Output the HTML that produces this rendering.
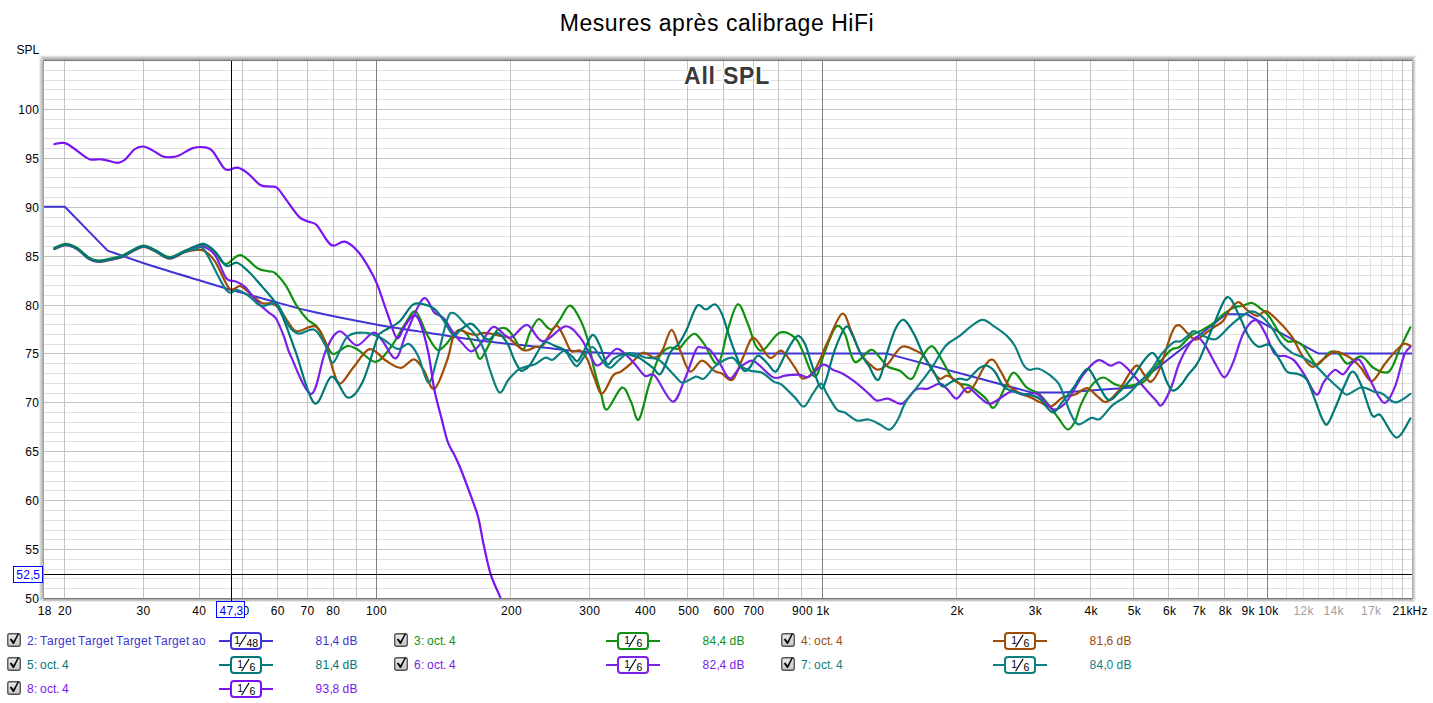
<!DOCTYPE html><html><head><meta charset="utf-8"><style>html,body{margin:0;padding:0;background:#fff;width:1433px;height:703px;overflow:hidden}svg{display:block}text{font-family:"Liberation Sans",sans-serif}</style></head><body>
<svg width="1433" height="703" viewBox="0 0 1433 703">
<defs><filter id="sh" x="-5%" y="-5%" width="110%" height="110%"><feGaussianBlur stdDeviation="1.6"/></filter><linearGradient id="cbg" x1="0" y1="0" x2="0" y2="1"><stop offset="0" stop-color="#ececec"/><stop offset="1" stop-color="#c4c4c4"/></linearGradient><clipPath id="pc"><rect x="44" y="61" width="1368" height="537"/></clipPath></defs>
<text x="717" y="31" text-anchor="middle" font-size="23" letter-spacing="0.55" fill="#000">Mesures après calibrage HiFi</text>
<text x="16.5 24.5 32.5" y="54" font-size="12" fill="#000">SPL</text>
<rect x="43" y="60" width="1369" height="538" fill="#fff"/>
<rect x="39" y="57" width="1" height="545" fill="#f0f0f0"/>
<rect x="40" y="58" width="1" height="543" fill="#d8d8d8"/>
<rect x="41" y="59" width="1" height="541" fill="#c8c8c8"/>
<rect x="42" y="60" width="1" height="539" fill="#b8b8b8"/>
<rect x="1415" y="58" width="1" height="543" fill="#f0f0f0"/>
<rect x="1414" y="59" width="1" height="541" fill="#d8d8d8"/>
<rect x="1413" y="60" width="1" height="539" fill="#c0c0c0"/>
<rect x="39" y="55" width="1378" height="1" fill="#f6f6f6"/>
<rect x="40" y="56" width="1376" height="1" fill="#e0e0e0"/>
<rect x="41" y="57" width="1374" height="1" fill="#cacaca"/>
<rect x="42" y="58" width="1372" height="1" fill="#b8b8b8"/>
<rect x="43" y="59" width="1370" height="1" fill="#a8a8a8"/>
<rect x="41" y="601" width="1374" height="1" fill="#e8e8e8"/>
<rect x="42" y="600" width="1372" height="1" fill="#c8c8c8"/>
<rect x="43" y="599" width="1370" height="1" fill="#b0b0b0"/>
<rect x="44" y="588" width="1368" height="1" fill="#e0e0e0"/>
<rect x="44" y="578" width="1368" height="1" fill="#e0e0e0"/>
<rect x="44" y="569" width="1368" height="1" fill="#e0e0e0"/>
<rect x="44" y="559" width="1368" height="1" fill="#e0e0e0"/>
<rect x="44" y="549" width="1368" height="1" fill="#c4c4c4"/>
<rect x="44" y="539" width="1368" height="1" fill="#e0e0e0"/>
<rect x="44" y="530" width="1368" height="1" fill="#e0e0e0"/>
<rect x="44" y="520" width="1368" height="1" fill="#e0e0e0"/>
<rect x="44" y="510" width="1368" height="1" fill="#e0e0e0"/>
<rect x="44" y="500" width="1368" height="1" fill="#c4c4c4"/>
<rect x="44" y="490" width="1368" height="1" fill="#e0e0e0"/>
<rect x="44" y="481" width="1368" height="1" fill="#e0e0e0"/>
<rect x="44" y="471" width="1368" height="1" fill="#e0e0e0"/>
<rect x="44" y="461" width="1368" height="1" fill="#e0e0e0"/>
<rect x="44" y="451" width="1368" height="1" fill="#c4c4c4"/>
<rect x="44" y="441" width="1368" height="1" fill="#e0e0e0"/>
<rect x="44" y="432" width="1368" height="1" fill="#e0e0e0"/>
<rect x="44" y="422" width="1368" height="1" fill="#e0e0e0"/>
<rect x="44" y="412" width="1368" height="1" fill="#e0e0e0"/>
<rect x="44" y="402" width="1368" height="1" fill="#c4c4c4"/>
<rect x="44" y="393" width="1368" height="1" fill="#e0e0e0"/>
<rect x="44" y="383" width="1368" height="1" fill="#e0e0e0"/>
<rect x="44" y="373" width="1368" height="1" fill="#e0e0e0"/>
<rect x="44" y="363" width="1368" height="1" fill="#e0e0e0"/>
<rect x="44" y="353" width="1368" height="1" fill="#c4c4c4"/>
<rect x="44" y="344" width="1368" height="1" fill="#e0e0e0"/>
<rect x="44" y="334" width="1368" height="1" fill="#e0e0e0"/>
<rect x="44" y="324" width="1368" height="1" fill="#e0e0e0"/>
<rect x="44" y="314" width="1368" height="1" fill="#e0e0e0"/>
<rect x="44" y="305" width="1368" height="1" fill="#c4c4c4"/>
<rect x="44" y="295" width="1368" height="1" fill="#e0e0e0"/>
<rect x="44" y="285" width="1368" height="1" fill="#e0e0e0"/>
<rect x="44" y="275" width="1368" height="1" fill="#e0e0e0"/>
<rect x="44" y="265" width="1368" height="1" fill="#e0e0e0"/>
<rect x="44" y="256" width="1368" height="1" fill="#c4c4c4"/>
<rect x="44" y="246" width="1368" height="1" fill="#e0e0e0"/>
<rect x="44" y="236" width="1368" height="1" fill="#e0e0e0"/>
<rect x="44" y="226" width="1368" height="1" fill="#e0e0e0"/>
<rect x="44" y="217" width="1368" height="1" fill="#e0e0e0"/>
<rect x="44" y="207" width="1368" height="1" fill="#c4c4c4"/>
<rect x="44" y="197" width="1368" height="1" fill="#e0e0e0"/>
<rect x="44" y="187" width="1368" height="1" fill="#e0e0e0"/>
<rect x="44" y="177" width="1368" height="1" fill="#e0e0e0"/>
<rect x="44" y="168" width="1368" height="1" fill="#e0e0e0"/>
<rect x="44" y="158" width="1368" height="1" fill="#c4c4c4"/>
<rect x="44" y="148" width="1368" height="1" fill="#e0e0e0"/>
<rect x="44" y="138" width="1368" height="1" fill="#e0e0e0"/>
<rect x="44" y="128" width="1368" height="1" fill="#e0e0e0"/>
<rect x="44" y="119" width="1368" height="1" fill="#e0e0e0"/>
<rect x="44" y="109" width="1368" height="1" fill="#c4c4c4"/>
<rect x="44" y="99" width="1368" height="1" fill="#e0e0e0"/>
<rect x="44" y="89" width="1368" height="1" fill="#e0e0e0"/>
<rect x="44" y="80" width="1368" height="1" fill="#e0e0e0"/>
<rect x="44" y="70" width="1368" height="1" fill="#e0e0e0"/>
<rect x="64" y="61" width="1" height="537" fill="#c4c4c4"/>
<rect x="143" y="61" width="1" height="537" fill="#c4c4c4"/>
<rect x="199" y="61" width="1" height="537" fill="#c4c4c4"/>
<rect x="242" y="61" width="1" height="537" fill="#c4c4c4"/>
<rect x="277" y="61" width="1" height="537" fill="#c4c4c4"/>
<rect x="307" y="61" width="1" height="537" fill="#c4c4c4"/>
<rect x="333" y="61" width="1" height="537" fill="#c4c4c4"/>
<rect x="356" y="61" width="1" height="537" fill="#c4c4c4"/>
<rect x="376" y="61" width="1" height="537" fill="#808080"/>
<rect x="510" y="61" width="1" height="537" fill="#c4c4c4"/>
<rect x="589" y="61" width="1" height="537" fill="#c4c4c4"/>
<rect x="644" y="61" width="1" height="537" fill="#c4c4c4"/>
<rect x="687" y="61" width="1" height="537" fill="#c4c4c4"/>
<rect x="723" y="61" width="1" height="537" fill="#c4c4c4"/>
<rect x="753" y="61" width="1" height="537" fill="#c4c4c4"/>
<rect x="778" y="61" width="1" height="537" fill="#c4c4c4"/>
<rect x="801" y="61" width="1" height="537" fill="#c4c4c4"/>
<rect x="822" y="61" width="1" height="537" fill="#808080"/>
<rect x="956" y="61" width="1" height="537" fill="#c4c4c4"/>
<rect x="1034" y="61" width="1" height="537" fill="#c4c4c4"/>
<rect x="1090" y="61" width="1" height="537" fill="#c4c4c4"/>
<rect x="1133" y="61" width="1" height="537" fill="#c4c4c4"/>
<rect x="1168" y="61" width="1" height="537" fill="#c4c4c4"/>
<rect x="1198" y="61" width="1" height="537" fill="#c4c4c4"/>
<rect x="1224" y="61" width="1" height="537" fill="#c4c4c4"/>
<rect x="1247" y="61" width="1" height="537" fill="#c4c4c4"/>
<rect x="1267" y="61" width="1" height="537" fill="#808080"/>
<rect x="1286" y="61" width="1" height="537" fill="#e2e2e2"/>
<rect x="1303" y="61" width="1" height="537" fill="#e2e2e2"/>
<rect x="1318" y="61" width="1" height="537" fill="#e2e2e2"/>
<rect x="1333" y="61" width="1" height="537" fill="#e2e2e2"/>
<rect x="1346" y="61" width="1" height="537" fill="#e2e2e2"/>
<rect x="1358" y="61" width="1" height="537" fill="#e2e2e2"/>
<rect x="1370" y="61" width="1" height="537" fill="#e2e2e2"/>
<rect x="1381" y="61" width="1" height="537" fill="#e2e2e2"/>
<rect x="1392" y="61" width="1" height="537" fill="#e2e2e2"/>
<rect x="1402" y="61" width="1" height="537" fill="#c4c4c4"/>
<rect x="43" y="60" width="1" height="539" fill="#a0a0a0"/>
<rect x="1412" y="60" width="1" height="539" fill="#b0b0b0"/>
<rect x="44" y="60" width="1368" height="1" fill="#787878"/>
<rect x="44" y="598" width="1368" height="1" fill="#787878"/>
<text x="727" y="83.5" text-anchor="middle" font-size="23" font-weight="bold" letter-spacing="0.78" fill="#3a3a3a" stroke="#fff" stroke-width="3" paint-order="stroke">All SPL</text>
<g clip-path="url(#pc)" fill="none" stroke-linejoin="round" stroke-linecap="round">
<path d="M43.0,206.8 L64.8,206.8 L107.6,250.6 L107.6,250.6 C114.7,253.1 134.6,260.3 150.0,265.3 C165.4,270.3 186.3,276.4 200.0,280.5 C213.7,284.6 219.5,286.5 232.1,290.1 C244.7,293.7 262.1,298.3 275.4,301.9 C288.7,305.5 294.9,307.8 311.7,311.6 C328.4,315.4 357.3,321.1 375.9,324.5 C394.5,327.9 406.1,329.3 423.3,332.0 C440.5,334.7 460.5,338.1 479.1,340.5 C497.7,342.9 518.2,344.7 535.0,346.5 C551.8,348.3 566.7,350.4 580.0,351.5 C593.3,352.6 609.2,353.1 615.0,353.4 L886.0,353.4 L1032.0,392.6 L1062.0,392.4 L1132.0,387.6 L1226.0,314.2 L1246.5,314.2 L1318.0,353.4 L1412.0,353.4" stroke="#4034d4" stroke-width="2"/>
<path d="M54.5,247.7 C56.4,247.1 62.0,243.8 65.7,243.8 C69.4,243.8 72.9,245.4 76.8,247.7 C80.7,250.0 85.5,255.6 89.1,257.7 C92.6,259.8 94.4,260.4 98.1,260.5 C101.8,260.6 107.4,259.1 111.5,258.3 C115.6,257.5 119.1,256.9 122.6,255.5 C126.1,254.1 129.2,251.6 132.7,249.9 C136.2,248.2 140.1,245.5 143.8,245.5 C147.5,245.5 150.7,248.0 155.0,249.9 C159.3,251.8 164.7,257.0 169.5,257.2 C174.3,257.4 179.8,252.7 184.0,251.0 C188.2,249.3 191.6,248.1 195.0,247.0 C198.4,245.9 201.0,243.8 204.4,244.7 C207.8,245.6 211.8,249.2 215.3,252.5 C218.8,255.8 221.3,263.8 225.5,264.2 C229.7,264.6 235.1,254.5 240.4,255.2 C245.8,255.9 252.9,265.5 257.6,268.2 C262.3,270.9 265.6,270.5 268.5,271.3 C271.4,272.1 271.9,270.5 274.8,272.8 C277.7,275.1 282.1,279.9 285.7,285.4 C289.3,290.9 293.0,300.0 296.7,305.7 C300.4,311.4 304.2,316.3 307.6,319.8 C311.0,323.3 314.0,323.1 317.0,326.8 C320.0,330.5 322.7,337.7 325.4,342.2 C328.1,346.7 329.5,353.4 333.2,354.0 C336.9,354.6 343.1,346.8 347.3,346.1 C351.5,345.4 353.5,347.4 358.2,350.0 C362.9,352.6 370.0,362.2 375.4,361.8 C380.8,361.4 385.9,353.4 390.7,347.3 C395.5,341.2 400.3,331.1 404.4,325.1 C408.5,319.1 411.8,310.1 415.5,311.5 C419.2,312.9 423.0,327.3 426.6,333.7 C430.2,340.1 433.9,347.7 437.0,349.6 C440.1,351.5 442.8,347.3 445.4,345.0 C448.0,342.7 450.5,338.2 452.8,335.7 C455.1,333.2 456.9,330.5 459.2,330.2 C461.5,329.9 464.0,330.8 466.6,333.9 C469.2,337.0 472.7,344.5 475.0,348.7 C477.3,352.9 478.0,359.7 480.5,358.8 C483.0,357.9 487.0,347.9 489.8,343.1 C492.6,338.3 494.6,332.6 497.2,330.2 C499.8,327.8 503.1,327.5 505.7,328.4 C508.3,329.3 509.9,332.0 512.8,335.6 C515.6,339.2 519.9,350.3 522.8,349.8 C525.6,349.3 527.3,337.8 529.9,332.7 C532.5,327.6 535.6,320.1 538.4,319.2 C541.2,318.2 544.5,325.3 546.9,327.0 C549.3,328.7 550.5,330.4 552.6,329.2 C554.7,328.0 556.9,323.8 559.7,319.9 C562.6,316.0 566.4,305.9 569.7,305.7 C573.0,305.5 576.6,312.6 579.7,318.5 C582.8,324.4 585.8,333.0 588.2,341.3 C590.6,349.6 591.8,359.6 593.9,368.3 C596.0,377.0 598.8,386.7 601.0,393.6 C603.2,400.5 603.5,410.5 607.0,409.5 C610.5,408.5 617.9,388.9 621.9,387.6 C625.9,386.3 628.1,396.3 630.9,401.6 C633.7,406.9 635.8,422.2 638.8,419.5 C641.8,416.8 645.5,395.9 648.8,385.6 C652.1,375.3 655.4,364.0 658.7,357.7 C662.0,351.4 665.4,349.3 668.7,347.8 C672.0,346.3 675.7,350.1 678.7,348.8 C681.7,347.5 683.9,342.3 686.6,339.8 C689.3,337.3 692.1,333.2 695.0,333.8 C697.9,334.4 700.1,338.7 703.9,343.7 C707.7,348.7 713.9,366.0 717.9,363.7 C721.9,361.4 724.5,339.7 727.8,329.8 C731.1,319.9 734.5,305.3 737.8,304.3 C741.1,303.3 744.8,316.9 747.8,323.8 C750.8,330.7 753.1,341.4 755.7,345.7 C758.4,350.0 759.7,351.8 763.7,349.7 C767.7,347.6 774.4,334.8 779.6,332.8 C784.8,330.8 791.1,334.6 795.0,337.8 C798.9,341.0 799.6,345.3 802.9,351.8 C806.2,358.3 811.2,376.7 814.9,376.7 C818.5,376.7 821.3,360.1 824.8,351.8 C828.3,343.5 832.5,329.9 835.8,326.9 C839.1,323.9 841.6,328.0 844.8,333.8 C847.9,339.6 850.4,359.0 854.7,361.7 C859.0,364.4 866.5,350.4 870.7,349.8 C874.9,349.2 877.1,355.0 880.0,357.8 C882.9,360.6 884.7,364.6 888.0,366.7 C891.3,368.8 895.9,368.7 899.9,370.7 C903.9,372.7 908.2,380.8 911.9,378.7 C915.5,376.6 918.5,363.2 921.8,357.8 C925.1,352.4 928.5,345.9 931.8,346.2 C935.1,346.5 938.5,354.6 941.8,359.8 C945.1,365.1 948.7,373.7 951.7,377.7 C954.7,381.7 956.7,382.4 959.7,383.7 C962.7,385.0 965.4,383.4 969.6,385.7 C973.8,388.0 981.0,394.0 985.0,397.6 C989.0,401.2 990.6,409.3 993.9,407.6 C997.2,405.9 1001.6,393.4 1004.9,387.6 C1008.2,381.8 1010.1,372.7 1013.8,372.7 C1017.4,372.7 1022.6,384.1 1026.8,387.6 C1031.0,391.1 1034.7,390.3 1038.7,393.6 C1042.7,396.9 1047.4,403.5 1050.7,407.6 C1054.0,411.8 1055.9,414.9 1058.7,418.5 C1061.5,422.1 1064.9,429.0 1067.6,429.5 C1070.3,430.0 1072.8,425.6 1075.0,421.5 C1077.2,417.4 1078.0,411.0 1080.7,405.1 C1083.4,399.2 1087.6,390.5 1091.3,385.9 C1095.0,381.3 1099.0,377.8 1102.8,377.5 C1106.6,377.2 1110.6,382.5 1114.2,383.9 C1117.8,385.3 1119.5,386.3 1124.2,386.1 C1129.0,385.9 1137.2,385.9 1142.7,382.5 C1148.2,379.1 1152.2,370.8 1156.9,365.4 C1161.6,359.9 1167.3,352.9 1171.1,349.8 C1174.9,346.7 1176.4,349.3 1179.7,346.9 C1183.0,344.5 1187.2,338.4 1191.0,335.6 C1194.8,332.8 1198.6,332.0 1202.4,329.9 C1206.2,327.8 1210.0,325.6 1213.8,322.8 C1217.6,320.0 1221.7,315.4 1225.2,312.8 C1228.8,310.2 1232.3,308.2 1235.1,307.1 C1237.9,306.0 1239.2,306.7 1242.0,306.0 C1244.8,305.3 1249.0,302.6 1252.0,303.0 C1255.0,303.4 1257.2,306.0 1260.0,308.1 C1262.8,310.2 1265.3,311.5 1268.5,315.6 C1271.7,319.7 1276.0,328.3 1279.2,332.6 C1282.4,336.9 1285.0,339.8 1287.7,341.2 C1290.4,342.6 1292.7,340.5 1295.2,341.2 C1297.7,341.9 1299.9,342.6 1302.6,345.4 C1305.3,348.2 1308.7,355.0 1311.2,358.2 C1313.7,361.4 1314.4,365.7 1317.6,364.6 C1320.8,363.5 1326.9,353.6 1330.4,351.8 C1334.0,350.0 1336.1,352.0 1338.9,354.0 C1341.7,356.0 1343.7,363.2 1347.4,363.6 C1351.1,364.0 1356.8,355.7 1361.3,356.5 C1365.8,357.3 1369.5,365.8 1374.1,368.3 C1378.7,370.8 1384.8,374.7 1389.1,371.5 C1393.4,368.3 1396.2,356.5 1399.7,349.1 C1403.2,341.7 1408.6,330.9 1410.4,327.3" stroke="#119111" stroke-width="2.2"/>
<path d="M54.5,249.1 C56.4,248.4 62.0,245.2 65.7,245.2 C69.4,245.2 72.9,246.8 76.8,249.1 C80.7,251.4 85.5,257.0 89.1,259.1 C92.6,261.2 94.4,261.8 98.1,261.9 C101.8,262.0 107.4,260.5 111.5,259.7 C115.6,258.9 119.1,258.3 122.6,256.9 C126.1,255.5 129.2,253.0 132.7,251.3 C136.2,249.6 140.1,246.9 143.8,246.9 C147.5,246.9 150.7,249.3 155.0,251.3 C159.3,253.2 164.7,258.4 169.5,258.6 C174.3,258.8 179.8,253.8 184.0,252.4 C188.2,251.0 191.6,250.4 195.0,250.2 C198.4,250.0 201.0,249.1 204.4,251.0 C207.8,252.9 211.1,255.6 215.3,261.9 C219.5,268.1 225.2,284.5 229.4,288.5 C233.6,292.5 236.8,285.1 240.4,286.1 C244.1,287.1 247.7,291.8 251.3,294.7 C255.0,297.6 258.9,301.9 262.3,303.3 C265.7,304.7 268.7,302.4 271.6,303.3 C274.5,304.2 276.6,305.5 279.5,308.8 C282.4,312.1 285.9,319.1 288.8,322.9 C291.7,326.7 292.6,330.8 297.0,331.4 C301.4,332.0 310.3,324.5 315.0,326.3 C319.7,328.1 322.4,334.9 325.4,342.2 C328.4,349.5 330.7,363.5 333.2,370.4 C335.7,377.3 336.8,384.2 340.2,383.7 C343.6,383.2 348.6,373.1 353.5,367.3 C358.4,361.6 364.1,350.2 369.6,349.2 C375.1,348.1 381.2,357.9 386.4,361.0 C391.6,364.1 396.4,368.1 401.0,367.8 C405.6,367.5 410.2,359.0 414.0,359.4 C417.8,359.8 420.5,365.5 423.9,370.4 C427.3,375.3 430.3,390.7 434.2,389.0 C438.1,387.3 444.1,368.4 447.2,360.0 C450.3,351.6 450.8,343.6 452.8,338.5 C454.8,333.4 456.9,330.6 459.2,329.7 C461.5,328.8 463.8,332.0 466.6,332.9 C469.4,333.8 472.8,334.8 475.9,334.8 C479.0,334.8 481.2,332.8 485.1,332.9 C489.0,333.0 495.1,334.9 499.0,335.7 C502.9,336.5 505.5,336.1 508.5,337.7 C511.5,339.3 514.2,343.4 517.1,345.5 C520.0,347.6 522.5,350.3 525.6,350.5 C528.7,350.7 532.8,347.7 535.6,346.9 C538.5,346.1 540.3,347.6 542.7,345.5 C545.1,343.4 547.4,337.4 549.8,334.1 C552.2,330.8 554.5,325.1 556.9,325.6 C559.3,326.1 561.6,332.7 564.0,337.0 C566.4,341.3 568.5,348.9 571.1,351.2 C573.7,353.4 577.1,349.3 579.7,350.5 C582.3,351.7 584.4,353.9 586.8,358.3 C589.2,362.7 591.4,370.9 593.9,376.8 C596.4,382.7 598.8,393.8 602.0,393.6 C605.2,393.4 609.8,379.4 612.9,375.7 C616.0,372.0 617.9,373.7 620.9,371.7 C623.9,369.7 627.2,366.9 630.9,363.7 C634.5,360.5 638.8,353.7 642.8,352.7 C646.8,351.7 651.5,358.2 654.8,357.7 C658.1,357.2 659.9,354.4 662.7,349.8 C665.5,345.2 668.7,329.5 671.7,329.8 C674.7,330.1 677.7,344.8 680.7,351.8 C683.8,358.8 686.5,370.1 690.0,371.6 C693.5,373.1 698.0,360.9 702.0,360.7 C706.0,360.5 710.6,368.5 713.9,370.6 C717.2,372.8 718.8,372.1 721.9,373.6 C725.0,375.1 729.1,382.6 732.8,379.6 C736.4,376.6 740.3,362.7 743.8,355.7 C747.3,348.7 749.4,337.5 753.7,337.8 C758.0,338.1 765.1,355.6 769.7,357.7 C774.4,359.8 777.4,349.0 781.6,350.7 C785.8,352.4 791.5,363.0 795.0,367.7 C798.5,372.4 799.6,378.3 802.9,378.6 C806.2,378.9 810.9,375.5 814.9,369.7 C818.9,363.9 822.3,353.1 826.8,343.8 C831.3,334.5 837.8,316.2 841.8,313.9 C845.8,311.6 847.6,323.2 850.7,329.8 C853.9,336.4 857.1,347.6 860.7,353.7 C864.4,359.8 869.6,364.0 872.6,366.7 C875.6,369.4 876.0,370.2 878.6,369.7 C881.2,369.2 884.1,367.5 888.0,363.7 C891.9,359.9 897.2,348.9 901.9,346.8 C906.5,344.7 912.2,349.3 915.9,350.8 C919.5,352.3 921.1,352.7 923.8,355.8 C926.4,358.9 929.1,365.9 931.8,369.7 C934.5,373.5 937.1,377.7 939.8,378.7 C942.4,379.7 944.4,374.9 947.7,375.7 C951.0,376.5 956.1,381.0 959.7,383.7 C963.4,386.4 965.4,394.6 969.6,391.6 C973.8,388.6 981.1,371.0 985.0,365.7 C988.9,360.4 990.2,358.8 992.9,359.8 C995.5,360.8 998.2,367.4 1000.9,371.7 C1003.6,376.0 1005.9,382.2 1008.9,385.7 C1011.9,389.2 1015.1,390.6 1018.8,392.6 C1022.4,394.6 1027.1,395.9 1030.8,397.6 C1034.5,399.3 1037.4,401.1 1040.7,402.6 C1044.0,404.1 1047.1,407.4 1050.7,406.6 C1054.3,405.8 1058.5,399.6 1062.6,397.6 C1066.6,395.6 1070.9,396.2 1075.0,394.6 C1079.1,393.0 1083.3,387.8 1087.1,388.1 C1090.9,388.4 1094.5,394.3 1097.7,396.6 C1100.9,398.9 1102.7,403.0 1106.2,401.9 C1109.8,400.8 1115.1,395.0 1119.0,390.2 C1122.9,385.4 1126.7,377.3 1129.7,373.2 C1132.7,369.1 1134.7,365.3 1137.2,365.7 C1139.7,366.1 1142.3,372.6 1144.6,375.3 C1146.9,378.0 1148.5,382.8 1151.0,381.7 C1153.5,380.6 1156.1,377.0 1159.6,368.9 C1163.1,360.8 1168.6,340.2 1171.8,332.9 C1175.0,325.6 1176.1,325.2 1178.7,325.2 C1181.3,325.2 1184.4,330.5 1187.2,332.9 C1190.0,335.3 1192.6,339.7 1195.7,339.7 C1198.8,339.7 1202.9,335.0 1206.0,332.9 C1209.1,330.8 1211.7,328.9 1214.5,326.9 C1217.3,324.9 1220.5,323.8 1223.0,321.0 C1225.5,318.2 1227.2,313.0 1229.8,309.9 C1232.4,306.8 1235.6,302.2 1238.4,302.2 C1241.2,302.2 1243.8,307.6 1246.9,309.9 C1250.0,312.2 1254.0,315.6 1257.2,315.8 C1260.5,316.0 1262.7,310.3 1266.4,311.3 C1270.1,312.3 1274.9,317.7 1279.2,322.0 C1283.5,326.3 1288.1,331.2 1292.0,336.9 C1295.9,342.6 1299.2,351.1 1302.6,356.1 C1306.0,361.1 1309.0,366.1 1312.2,366.8 C1315.4,367.5 1318.1,362.9 1321.8,360.4 C1325.5,357.9 1330.7,352.7 1334.6,351.8 C1338.5,350.9 1342.1,353.6 1345.3,355.0 C1348.5,356.4 1351.1,358.2 1353.8,360.4 C1356.5,362.6 1358.3,364.9 1361.3,368.3 C1364.3,371.8 1368.1,381.8 1372.0,381.1 C1375.9,380.4 1380.9,369.0 1384.8,364.0 C1388.7,359.0 1392.3,354.6 1395.5,351.2 C1398.7,347.8 1401.5,344.6 1404.0,343.7 C1406.5,342.8 1409.3,345.5 1410.4,345.9" stroke="#a04c06" stroke-width="2.2"/>
<path d="M54.5,248.7 C56.4,248.1 62.0,244.8 65.7,244.8 C69.4,244.8 72.9,246.4 76.8,248.7 C80.7,251.0 85.5,256.6 89.1,258.7 C92.6,260.8 94.4,261.4 98.1,261.5 C101.8,261.6 107.4,260.1 111.5,259.3 C115.6,258.5 119.1,257.9 122.6,256.5 C126.1,255.1 129.2,252.6 132.7,250.9 C136.2,249.2 140.1,246.5 143.8,246.5 C147.5,246.5 150.7,249.0 155.0,250.9 C159.3,252.8 164.7,258.0 169.5,258.2 C174.3,258.4 179.8,253.9 184.0,252.0 C188.2,250.1 191.6,247.8 195.0,247.0 C198.4,246.2 201.0,245.6 204.4,247.0 C207.8,248.4 211.7,250.4 215.3,255.6 C219.0,260.8 222.9,274.0 226.3,278.3 C229.7,282.6 232.6,280.0 235.7,281.4 C238.8,282.8 241.1,283.1 245.0,286.9 C248.9,290.7 254.9,299.7 259.1,304.1 C263.3,308.5 267.2,311.0 270.1,313.5 C273.0,316.0 274.0,315.1 276.3,319.0 C278.6,322.9 281.7,330.8 284.1,337.0 C286.5,343.2 286.4,346.8 290.9,356.3 C295.4,365.8 305.6,394.6 311.3,393.8 C317.1,393.0 320.7,362.0 325.4,351.6 C330.1,341.2 334.2,332.3 339.4,331.3 C344.6,330.3 351.0,345.1 356.6,345.4 C362.2,345.6 368.5,333.6 372.8,332.8 C377.1,332.0 378.4,336.2 382.2,340.5 C386.0,344.8 391.9,359.5 395.9,358.4 C399.9,357.3 401.6,343.6 406.1,333.7 C410.7,323.8 418.5,302.2 423.2,298.7 C427.9,295.2 430.9,309.4 434.3,312.6 C437.7,315.8 440.4,314.9 443.5,318.1 C446.6,321.3 449.7,327.8 452.8,332.0 C455.9,336.2 458.9,339.9 462.0,343.1 C465.1,346.3 468.2,351.2 471.3,351.4 C474.4,351.5 476.8,348.1 480.5,344.0 C484.2,339.9 488.6,327.9 493.5,326.9 C498.4,325.8 504.4,338.0 510.0,337.7 C515.6,337.4 521.5,324.3 527.0,324.9 C532.5,325.5 536.3,341.1 542.7,341.3 C549.1,341.5 559.2,327.0 565.4,326.3 C571.6,325.6 575.9,332.9 579.7,337.0 C583.5,341.1 585.4,346.5 588.2,351.2 C591.0,355.9 593.6,364.3 596.7,365.4 C599.8,366.5 603.5,360.5 607.0,357.7 C610.5,354.9 613.6,348.1 617.9,348.8 C622.2,349.5 628.3,357.2 632.8,361.7 C637.3,366.2 641.1,373.4 644.8,375.7 C648.5,378.0 650.1,371.4 654.8,375.7 C659.4,380.0 667.7,401.0 672.7,401.6 C677.7,402.2 680.7,388.2 684.6,379.6 C688.5,371.0 693.1,355.0 696.0,349.7 C698.9,344.4 699.7,347.7 702.0,347.7 C704.3,347.7 706.9,347.0 709.9,349.7 C712.9,352.4 716.6,358.9 719.9,363.7 C723.2,368.5 726.5,378.0 729.8,378.6 C733.1,379.2 736.1,370.6 739.8,367.6 C743.5,364.6 748.5,361.0 751.8,360.7 C755.1,360.4 756.1,362.9 759.7,365.7 C763.4,368.5 769.5,375.9 773.7,377.6 C777.9,379.3 780.8,376.2 785.0,375.7 C789.2,375.2 795.0,374.5 799.0,374.7 C803.0,374.9 804.9,378.4 808.9,376.7 C812.9,375.0 818.8,365.9 822.8,364.7 C826.8,363.5 829.5,368.2 832.8,369.7 C836.1,371.2 839.1,371.7 842.8,373.7 C846.4,375.7 850.4,378.3 854.7,381.6 C859.0,384.9 865.1,390.4 868.7,393.6 C872.4,396.8 873.4,399.8 876.6,400.6 C879.8,401.4 883.8,398.1 888.0,398.6 C892.2,399.1 897.2,405.1 901.9,403.6 C906.5,402.1 911.6,392.1 915.9,389.6 C920.2,387.1 923.8,389.6 927.8,388.6 C931.8,387.6 936.5,383.5 939.8,383.7 C943.1,383.9 944.9,387.1 947.7,389.6 C950.5,392.1 953.4,398.9 956.7,398.6 C960.0,398.3 963.7,387.8 967.6,387.6 C971.5,387.4 976.1,394.9 980.0,397.6 C983.9,400.3 985.8,404.6 990.9,403.6 C996.0,402.6 1005.6,393.1 1010.9,391.6 C1016.2,390.1 1018.5,394.3 1022.8,394.6 C1027.1,394.9 1032.8,392.1 1036.8,393.6 C1040.8,395.1 1043.7,400.9 1046.7,403.6 C1049.7,406.3 1051.4,409.9 1054.7,409.6 C1058.0,409.3 1061.9,407.3 1066.6,401.6 C1071.3,395.9 1077.6,382.2 1082.8,375.3 C1088.0,368.4 1093.1,362.0 1097.7,360.4 C1102.3,358.8 1106.8,365.3 1110.5,365.7 C1114.2,366.1 1116.5,361.2 1120.1,362.5 C1123.6,363.8 1127.7,368.9 1131.8,373.2 C1135.9,377.5 1140.7,383.7 1144.6,388.1 C1148.5,392.5 1152.4,397.0 1155.3,399.8 C1158.2,402.6 1159.1,407.1 1161.7,405.1 C1164.3,403.1 1168.1,394.9 1171.0,388.0 C1173.9,381.1 1176.0,371.2 1179.0,364.0 C1182.0,356.8 1185.8,349.3 1188.9,344.8 C1192.0,340.3 1194.6,336.9 1197.4,337.2 C1200.2,337.5 1202.9,341.9 1206.0,346.6 C1209.1,351.3 1213.1,360.2 1216.2,365.3 C1219.3,370.4 1221.9,377.9 1224.7,377.3 C1227.5,376.7 1230.2,369.3 1233.3,361.9 C1236.4,354.5 1239.8,339.9 1243.5,332.9 C1247.2,325.9 1251.8,320.1 1255.4,320.1 C1259.0,320.1 1261.8,327.2 1265.0,332.9 C1268.2,338.5 1271.5,350.1 1274.9,354.0 C1278.3,357.9 1282.4,355.0 1285.6,356.1 C1288.8,357.2 1290.9,357.2 1294.1,360.4 C1297.3,363.6 1301.1,369.6 1304.8,375.3 C1308.5,381.0 1313.3,393.4 1316.5,394.5 C1319.7,395.6 1321.0,385.8 1324.0,381.7 C1327.0,377.6 1331.4,371.2 1334.6,370.0 C1337.8,368.8 1340.3,375.3 1343.2,374.2 C1346.1,373.1 1349.0,366.0 1351.7,363.6 C1354.4,361.2 1356.5,357.9 1359.2,359.7 C1361.9,361.5 1364.5,368.6 1367.7,374.7 C1370.9,380.8 1375.4,391.4 1378.4,396.0 C1381.4,400.6 1383.1,404.2 1385.9,402.4 C1388.8,400.6 1392.5,393.1 1395.5,385.3 C1398.5,377.5 1401.5,361.9 1404.0,355.5 C1406.5,349.1 1409.3,348.3 1410.4,346.9" stroke="#7a22e6" stroke-width="2.2"/>
<path d="M54.5,248.4 C56.4,247.8 62.0,244.5 65.7,244.5 C69.4,244.5 72.9,246.1 76.8,248.4 C80.7,250.7 85.5,256.3 89.1,258.4 C92.6,260.5 94.4,261.1 98.1,261.2 C101.8,261.3 107.4,259.8 111.5,259.0 C115.6,258.2 119.1,257.6 122.6,256.2 C126.1,254.8 129.2,252.3 132.7,250.6 C136.2,248.9 140.1,246.2 143.8,246.2 C147.5,246.2 150.7,248.7 155.0,250.6 C159.3,252.5 164.7,257.7 169.5,257.9 C174.3,258.1 179.8,253.1 184.0,251.7 C188.2,250.3 191.6,249.7 195.0,249.4 C198.4,249.2 199.2,243.4 204.4,250.2 C209.6,257.0 220.8,283.4 226.3,290.0 C231.8,296.6 233.5,289.1 237.2,290.0 C240.8,290.9 244.3,292.9 248.2,295.5 C252.1,298.1 256.5,304.4 260.7,305.7 C264.9,307.0 270.1,303.0 273.2,303.3 C276.3,303.6 276.9,303.5 279.5,307.3 C282.1,311.1 285.6,321.6 288.8,326.0 C292.0,330.4 294.5,333.0 298.8,333.6 C303.1,334.2 310.0,327.7 314.4,329.7 C318.8,331.7 322.3,339.9 325.4,345.4 C328.5,350.9 329.5,364.0 333.2,362.6 C336.9,361.2 341.8,341.8 347.3,336.8 C352.8,331.8 360.2,332.5 366.0,332.8 C371.8,333.1 376.9,336.1 382.2,338.8 C387.5,341.5 393.2,348.1 397.6,349.0 C402.0,349.9 405.3,342.8 408.7,343.9 C412.1,345.0 414.8,349.5 418.1,355.9 C421.4,362.3 425.3,381.8 428.4,382.5 C431.5,383.2 433.6,370.4 436.7,360.0 C439.8,349.6 444.2,327.8 447.0,320.0 C449.8,312.2 450.5,312.2 453.7,313.0 C456.9,313.8 462.1,321.1 466.0,325.0 C469.9,328.9 473.8,332.4 476.8,336.6 C479.8,340.9 482.0,344.9 484.2,350.5 C486.4,356.1 487.5,363.0 490.0,370.0 C492.5,377.0 496.3,390.8 499.4,392.4 C502.5,394.0 505.3,383.5 508.5,379.7 C511.7,375.9 515.2,372.0 518.5,369.7 C521.8,367.4 525.6,367.1 528.5,366.1 C531.4,365.2 532.8,365.4 535.6,364.0 C538.4,362.6 542.7,358.3 545.5,357.6 C548.3,356.9 549.5,360.8 552.6,359.7 C555.7,358.6 560.9,351.0 564.0,351.0 C567.1,351.0 568.8,357.2 571.0,359.7 C573.2,362.2 574.7,366.8 577.0,366.1 C579.3,365.4 582.4,358.7 585.0,355.5 C587.6,352.3 590.0,346.8 592.5,347.0 C595.0,347.2 597.8,353.9 600.0,357.0 C602.2,360.1 604.2,363.8 606.0,365.5 C607.8,367.2 608.8,368.4 611.0,367.5 C613.2,366.6 616.3,362.3 619.0,360.0 C621.7,357.7 624.2,354.5 627.0,353.5 C629.8,352.5 633.0,353.3 636.0,354.0 C639.0,354.7 641.2,356.6 645.0,357.5 C648.8,358.4 653.8,356.7 658.7,359.7 C663.7,362.7 670.7,371.9 674.7,375.7 C678.7,379.5 679.1,382.5 682.6,382.6 C686.1,382.8 692.5,377.3 696.0,376.6 C699.5,375.9 700.6,380.4 703.9,378.6 C707.2,376.8 711.2,369.2 715.9,365.7 C720.5,362.2 727.8,357.7 731.8,357.7 C735.8,357.7 736.8,363.5 739.8,365.7 C742.8,367.9 746.1,369.5 749.8,370.6 C753.4,371.8 757.7,370.8 761.7,372.6 C765.7,374.4 770.4,379.6 773.7,381.6 C777.0,383.6 778.1,381.9 781.6,384.6 C785.1,387.3 791.3,394.0 795.0,397.6 C798.7,401.2 800.9,407.2 803.9,406.5 C806.9,405.8 810.1,397.4 812.9,393.6 C815.7,389.8 818.6,383.6 820.9,383.6 C823.2,383.6 824.1,389.3 826.8,393.6 C829.4,397.9 833.8,406.4 836.8,409.5 C839.8,412.6 841.5,410.7 844.8,412.5 C848.1,414.3 852.7,419.3 856.7,420.5 C860.7,421.7 864.8,418.8 868.7,419.5 C872.6,420.2 876.5,422.8 880.0,424.5 C883.5,426.2 887.0,430.3 890.0,429.5 C893.0,428.7 895.2,424.1 897.9,419.5 C900.5,414.9 902.2,407.6 905.9,401.6 C909.5,395.6 915.5,389.4 919.8,383.7 C924.1,378.0 927.5,374.0 931.8,367.7 C936.1,361.4 941.1,351.1 945.7,345.8 C950.4,340.5 955.4,339.2 959.7,335.9 C964.0,332.6 967.7,328.6 971.6,325.9 C975.5,323.2 979.1,319.7 983.0,319.9 C986.9,320.1 990.9,324.2 994.9,326.9 C998.9,329.6 1003.6,332.8 1006.9,335.9 C1010.2,339.0 1012.1,341.2 1014.8,345.8 C1017.4,350.4 1020.5,359.7 1022.8,363.7 C1025.1,367.7 1026.1,368.9 1028.8,369.7 C1031.5,370.5 1035.0,367.7 1038.7,368.7 C1042.4,369.7 1047.4,373.2 1050.7,375.7 C1054.0,378.2 1056.4,380.0 1058.7,383.7 C1061.0,387.4 1062.6,392.6 1064.6,397.6 C1066.6,402.6 1068.3,409.1 1070.6,413.5 C1072.9,417.9 1075.0,423.6 1078.5,424.3 C1082.0,425.0 1087.7,418.8 1091.3,417.9 C1094.9,417.0 1096.4,421.1 1099.9,419.0 C1103.5,416.9 1108.3,408.8 1112.6,405.1 C1116.8,401.4 1121.1,400.2 1125.4,396.6 C1129.7,393.1 1133.9,388.2 1138.2,383.8 C1142.5,379.4 1147.1,375.0 1151.0,370.0 C1154.9,365.0 1158.0,358.6 1161.7,354.0 C1165.5,349.4 1170.4,344.4 1173.5,342.3 C1176.6,340.2 1178.1,342.4 1180.4,341.4 C1182.7,340.4 1184.9,338.0 1187.2,336.3 C1189.5,334.6 1191.2,331.2 1194.0,331.2 C1196.8,331.2 1200.5,335.0 1204.2,336.3 C1207.9,337.6 1211.9,340.6 1216.2,338.9 C1220.5,337.2 1225.8,329.7 1229.8,326.1 C1233.8,322.5 1236.7,319.9 1240.1,317.5 C1243.5,315.1 1247.2,312.2 1250.3,311.6 C1253.4,311.0 1255.5,311.7 1258.9,314.1 C1262.3,316.5 1267.0,321.3 1270.7,326.2 C1274.4,331.1 1277.8,338.9 1281.3,343.3 C1284.8,347.8 1288.5,350.6 1292.0,352.9 C1295.5,355.2 1298.7,355.1 1302.6,357.2 C1306.5,359.3 1311.1,362.1 1315.4,365.7 C1319.7,369.2 1323.9,374.4 1328.2,378.5 C1332.5,382.6 1337.8,387.5 1341.0,390.2 C1344.2,392.9 1344.0,394.9 1347.4,394.5 C1350.8,394.1 1356.8,388.0 1361.3,387.5 C1365.8,387.0 1370.5,390.6 1374.1,391.7 C1377.7,392.8 1379.1,392.1 1382.7,393.9 C1386.3,395.7 1390.9,402.4 1395.5,402.4 C1400.1,402.4 1407.9,395.3 1410.4,393.9" stroke="#0e8082" stroke-width="2.2"/>
<path d="M54.5,248.4 C56.4,247.8 62.0,244.5 65.7,244.5 C69.4,244.5 72.9,246.1 76.8,248.4 C80.7,250.7 85.5,256.3 89.1,258.4 C92.6,260.5 94.4,261.1 98.1,261.2 C101.8,261.3 107.4,259.8 111.5,259.0 C115.6,258.2 119.1,257.6 122.6,256.2 C126.1,254.8 129.2,252.3 132.7,250.6 C136.2,248.9 140.1,246.2 143.8,246.2 C147.5,246.2 150.7,248.7 155.0,250.6 C159.3,252.5 164.7,257.7 169.5,257.9 C174.3,258.1 179.8,253.6 184.0,251.7 C188.2,249.8 191.7,247.6 195.0,246.3 C198.3,245.0 200.2,243.0 203.6,243.9 C207.0,244.8 211.5,248.0 215.3,251.7 C219.1,255.3 222.7,264.0 226.3,265.8 C230.0,267.6 233.3,261.5 237.2,262.7 C241.1,263.9 245.5,268.8 249.7,272.8 C253.9,276.8 258.1,282.1 262.3,286.9 C266.5,291.7 271.4,296.9 274.8,301.8 C278.2,306.8 279.1,308.3 282.6,316.6 C286.1,324.9 290.3,337.2 295.6,351.6 C300.9,366.0 308.4,399.0 314.4,403.2 C320.4,407.4 326.0,377.5 331.6,376.6 C337.2,375.7 342.8,396.9 348.0,397.7 C353.2,398.5 358.1,391.1 362.9,381.3 C367.7,371.5 373.8,347.3 377.0,339.1 C380.2,330.9 378.5,334.9 382.2,332.0 C385.9,329.1 394.2,326.3 399.3,321.7 C404.4,317.1 408.6,307.5 412.9,304.6 C417.2,301.8 421.3,303.9 424.9,304.6 C428.5,305.3 431.2,306.3 434.3,308.9 C437.4,311.5 440.9,316.3 443.5,320.0 C446.1,323.7 448.1,328.5 450.0,331.1 C451.9,333.7 452.9,335.9 454.6,335.7 C456.3,335.5 457.6,332.2 460.2,330.2 C462.8,328.2 467.5,324.0 470.3,323.7 C473.1,323.4 474.5,326.0 476.8,328.3 C479.1,330.6 482.0,335.8 484.2,337.6 C486.4,339.5 487.6,340.2 489.8,339.4 C492.0,338.6 494.3,332.3 497.2,332.9 C500.1,333.4 504.2,338.2 507.0,342.7 C509.8,347.2 512.0,355.2 514.2,359.7 C516.4,364.2 518.5,367.9 520.0,369.7 C521.5,371.5 521.8,371.2 523.5,370.4 C525.2,369.6 527.2,368.7 530.0,365.0 C532.8,361.3 537.4,351.8 540.0,348.0 C542.6,344.2 543.2,342.4 545.5,342.0 C547.8,341.6 550.9,344.2 554.0,345.5 C557.1,346.8 560.9,347.9 564.0,349.8 C567.1,351.7 570.2,355.0 572.5,356.9 C574.8,358.8 575.6,362.2 577.5,361.2 C579.4,360.2 581.5,355.4 584.0,351.0 C586.5,346.6 589.8,335.7 592.5,334.9 C595.2,334.1 597.6,341.1 600.0,346.0 C602.4,350.9 604.7,361.9 607.0,364.0 C609.3,366.1 611.2,360.1 614.0,358.4 C616.8,356.7 620.9,354.5 624.0,354.0 C627.1,353.5 629.8,354.9 632.5,355.6 C635.2,356.3 636.6,356.4 640.0,358.4 C643.4,360.4 649.3,365.1 652.8,367.7 C656.2,370.2 657.7,376.3 660.7,373.7 C663.7,371.1 667.7,356.8 670.7,351.8 C673.7,346.8 676.1,347.5 678.7,343.8 C681.4,340.1 683.6,336.1 686.6,329.8 C689.6,323.5 693.8,309.3 697.0,305.9 C700.2,302.5 702.9,309.8 705.9,309.5 C708.9,309.2 712.2,303.6 714.9,304.3 C717.6,305.0 719.4,308.3 721.9,313.9 C724.4,319.5 727.1,330.2 729.8,337.8 C732.4,345.4 735.5,354.2 737.8,359.7 C740.1,365.2 741.8,369.3 743.8,370.6 C745.8,371.9 747.5,370.1 749.8,367.6 C752.1,365.1 754.7,356.4 757.7,355.7 C760.7,355.0 764.7,361.0 767.7,363.7 C770.7,366.4 773.1,372.6 775.7,371.6 C778.4,370.6 781.1,362.3 783.6,357.7 C786.1,353.1 788.6,347.4 791.0,343.8 C793.4,340.2 795.7,335.8 798.0,335.8 C800.3,335.8 802.8,339.5 804.9,343.8 C807.0,348.1 808.9,355.7 810.9,361.7 C812.9,367.7 815.1,375.1 816.9,379.6 C818.7,384.1 820.2,388.9 821.9,388.6 C823.5,388.3 824.6,384.1 826.8,377.6 C828.9,371.1 831.6,358.2 834.8,349.8 C838.0,341.4 842.8,329.2 845.8,326.9 C848.8,324.6 850.2,331.3 852.7,335.8 C855.2,340.3 858.0,348.7 860.7,353.7 C863.4,358.7 865.7,361.4 868.7,365.7 C871.7,370.0 875.4,382.2 878.6,379.6 C881.8,377.0 885.1,358.4 888.0,349.8 C890.9,341.2 893.2,332.9 895.9,327.9 C898.5,322.9 900.9,318.9 903.9,319.9 C906.9,320.9 910.6,327.9 913.9,333.9 C917.2,339.9 920.5,349.5 923.8,355.8 C927.1,362.1 931.1,367.1 933.8,371.7 C936.5,376.3 938.1,381.2 939.8,383.7 C941.4,386.2 941.7,387.0 943.7,386.7 C945.7,386.4 949.0,383.0 951.7,381.7 C954.4,380.4 957.1,379.0 959.7,378.7 C962.4,378.4 965.3,380.5 967.6,379.7 C969.9,378.9 971.5,375.7 973.6,373.7 C975.7,371.7 977.8,369.0 980.0,367.7 C982.2,366.4 984.5,365.0 987.0,365.7 C989.5,366.4 992.2,368.4 994.9,371.7 C997.5,375.0 1000.2,382.5 1002.9,385.7 C1005.6,388.9 1007.9,389.3 1010.9,390.6 C1013.9,391.9 1017.1,392.8 1020.8,393.6 C1024.5,394.4 1029.5,394.6 1032.8,395.6 C1036.1,396.6 1037.4,396.8 1040.7,399.6 C1044.0,402.4 1049.1,412.2 1052.7,412.5 C1056.3,412.8 1058.9,406.1 1062.6,401.6 C1066.3,397.1 1072.3,389.4 1075.0,385.7 C1077.7,382.0 1076.3,382.4 1078.5,379.6 C1080.7,376.8 1084.9,368.2 1088.1,368.9 C1091.3,369.6 1094.3,378.6 1097.7,383.8 C1101.1,389.0 1104.9,398.4 1108.4,399.8 C1112.0,401.2 1114.7,396.4 1119.0,392.3 C1123.3,388.2 1130.1,380.3 1134.0,375.3 C1137.9,370.3 1139.5,366.2 1142.5,362.5 C1145.5,358.8 1149.2,352.9 1152.1,352.9 C1154.9,352.9 1157.3,358.0 1159.6,362.5 C1161.9,367.0 1163.8,375.3 1166.0,380.0 C1168.2,384.7 1170.2,389.5 1172.5,390.5 C1174.8,391.5 1177.4,388.6 1180.0,386.0 C1182.6,383.4 1184.8,379.3 1188.0,375.0 C1191.2,370.7 1194.7,368.9 1199.1,360.2 C1203.5,351.5 1209.8,333.2 1214.5,322.7 C1219.2,312.2 1223.3,298.5 1227.3,297.1 C1231.3,295.7 1234.9,307.6 1238.4,314.1 C1242.0,320.6 1245.3,330.9 1248.6,336.3 C1251.9,341.7 1254.7,345.2 1258.0,346.6 C1261.3,348.0 1265.7,343.5 1268.5,344.4 C1271.3,345.3 1272.8,348.8 1274.9,351.8 C1277.0,354.8 1279.2,359.1 1281.3,362.5 C1283.4,365.9 1284.8,370.2 1287.7,372.1 C1290.6,374.1 1295.2,372.9 1298.4,374.2 C1301.6,375.4 1304.1,375.2 1306.9,379.6 C1309.7,384.1 1312.9,394.5 1315.4,400.9 C1317.9,407.3 1319.8,414.0 1321.8,417.9 C1323.8,421.8 1325.1,425.7 1327.2,424.3 C1329.3,422.9 1331.6,416.1 1334.6,409.4 C1337.6,402.6 1342.3,390.1 1345.3,383.8 C1348.3,377.5 1350.1,371.2 1352.8,371.5 C1355.5,371.8 1358.1,378.0 1361.3,385.3 C1364.5,392.6 1368.8,410.2 1372.0,415.2 C1375.2,420.2 1376.4,411.5 1380.5,415.2 C1384.6,418.9 1391.5,437.1 1396.5,437.6 C1401.5,438.1 1408.1,421.6 1410.4,418.4" stroke="#007878" stroke-width="2.2"/>
<path d="M54.5,144.2 C55.7,144.0 59.3,142.7 61.7,142.8 C64.1,142.9 64.5,142.2 68.7,144.7 C72.9,147.2 82.9,155.4 86.9,157.9 C90.9,160.4 90.2,159.4 92.5,159.6 C94.8,159.8 98.0,159.1 100.8,159.3 C103.6,159.5 106.4,160.4 109.2,161.0 C112.0,161.6 115.0,163.0 117.6,162.8 C120.2,162.6 121.8,162.2 124.6,160.0 C127.4,157.8 131.3,151.8 134.3,149.5 C137.3,147.2 139.9,146.5 142.7,146.5 C145.5,146.5 147.8,147.9 151.1,149.5 C154.3,151.1 158.9,154.9 162.2,156.2 C165.4,157.5 167.8,157.3 170.6,157.2 C173.4,157.1 175.3,156.9 179.0,155.4 C182.7,153.9 188.5,149.4 192.9,148.1 C197.3,146.8 202.2,146.9 205.5,147.4 C208.8,147.9 209.5,147.5 212.5,150.9 C215.5,154.3 220.8,164.5 223.6,167.7 C226.4,170.8 226.9,169.8 229.2,169.8 C231.5,169.8 234.5,167.1 237.6,167.7 C240.7,168.3 244.0,170.4 247.8,173.3 C251.6,176.2 256.4,182.8 260.3,185.0 C264.2,187.2 268.4,186.1 271.3,186.6 C274.2,187.1 274.9,185.8 277.5,188.2 C280.1,190.5 283.2,195.9 286.9,200.7 C290.5,205.5 295.8,213.6 299.4,217.1 C303.0,220.6 305.9,220.5 308.8,221.8 C311.7,223.1 313.5,221.7 316.6,224.9 C319.7,228.2 324.7,237.8 327.6,241.3 C330.5,244.8 330.9,245.6 333.8,245.7 C336.7,245.8 340.9,240.8 344.8,241.6 C348.7,242.4 353.4,246.4 357.3,250.7 C361.2,254.9 365.2,261.5 368.5,267.1 C371.8,272.7 374.0,276.5 377.1,284.2 C380.2,291.9 384.0,304.2 387.3,313.2 C390.6,322.1 393.9,335.6 396.7,337.9 C399.5,340.2 401.7,330.5 404.4,326.8 C407.1,323.1 410.3,316.6 412.9,315.7 C415.5,314.8 417.2,315.6 419.8,321.7 C422.4,327.8 425.9,341.3 428.3,352.5 C430.7,363.7 432.1,378.4 434.2,389.0 C436.3,399.6 438.7,407.6 441.0,416.4 C443.3,425.2 445.5,435.5 447.8,442.0 C450.1,448.5 452.5,450.9 454.7,455.6 C456.9,460.3 458.1,462.5 461.1,470.0 C464.1,477.5 469.7,492.7 472.6,500.7 C475.5,508.7 476.5,510.3 478.4,518.0 C480.3,525.7 482.0,537.3 484.1,546.7 C486.2,556.1 488.1,566.1 490.8,574.6 C493.5,583.1 497.9,591.4 500.4,597.6 C502.9,603.8 505.1,609.6 506.0,612.0" stroke="#7a14f2" stroke-width="2.2"/>
</g>
<rect x="231" y="61" width="1" height="540" fill="#000"/>
<rect x="44" y="574" width="1368" height="1" fill="#000"/>
<text x="25.2 32.2" y="602.6" font-size="12" fill="#000">50</text>
<text x="25.2 32.2" y="553.6" font-size="12" fill="#000">55</text>
<text x="25.2 32.2" y="504.6" font-size="12" fill="#000">60</text>
<text x="25.2 32.2" y="455.6" font-size="12" fill="#000">65</text>
<text x="25.2 32.2" y="406.6" font-size="12" fill="#000">70</text>
<text x="25.2 32.2" y="357.6" font-size="12" fill="#000">75</text>
<text x="25.2 32.2" y="309.6" font-size="12" fill="#000">80</text>
<text x="25.2 32.2" y="260.6" font-size="12" fill="#000">85</text>
<text x="25.2 32.2" y="211.6" font-size="12" fill="#000">90</text>
<text x="25.2 32.2" y="162.6" font-size="12" fill="#000">95</text>
<text x="18.2 25.2 32.2" y="113.6" font-size="12" fill="#000">100</text>
<text x="37.72 44.72" y="614.8" font-size="12" fill="#000">18</text>
<text x="58.11 65.11" y="614.8" font-size="12" fill="#000">20</text>
<text x="136.56 143.56" y="614.8" font-size="12" fill="#000">30</text>
<text x="192.22 199.22" y="614.8" font-size="12" fill="#000">40</text>
<text x="235.39 242.39" y="614.8" font-size="12" fill="#000">50</text>
<text x="270.67 277.67" y="614.8" font-size="12" fill="#000">60</text>
<text x="300.49 307.49" y="614.8" font-size="12" fill="#000">70</text>
<text x="326.33 333.33" y="614.8" font-size="12" fill="#000">80</text>
<text x="366 373 380" y="614.8" font-size="12" fill="#000">100</text>
<text x="500.91 507.91 514.91" y="614.8" font-size="12" fill="#000">200</text>
<text x="579.36 586.36 593.36" y="614.8" font-size="12" fill="#000">300</text>
<text x="635.02 642.02 649.02" y="614.8" font-size="12" fill="#000">400</text>
<text x="678.19 685.19 692.19" y="614.8" font-size="12" fill="#000">500</text>
<text x="713.47 720.47 727.47" y="614.8" font-size="12" fill="#000">600</text>
<text x="743.29 750.29 757.29" y="614.8" font-size="12" fill="#000">700</text>
<text x="791.92 798.92 805.92" y="614.8" font-size="12" fill="#000">900</text>
<text x="816.3 823.3" y="614.8" font-size="12" fill="#000">1k</text>
<text x="950.41 957.41" y="614.8" font-size="12" fill="#000">2k</text>
<text x="1028.86 1035.86" y="614.8" font-size="12" fill="#000">3k</text>
<text x="1084.52 1091.52" y="614.8" font-size="12" fill="#000">4k</text>
<text x="1127.69 1134.69" y="614.8" font-size="12" fill="#000">5k</text>
<text x="1162.97 1169.97" y="614.8" font-size="12" fill="#000">6k</text>
<text x="1192.79 1199.79" y="614.8" font-size="12" fill="#000">7k</text>
<text x="1218.63 1225.63" y="614.8" font-size="12" fill="#000">8k</text>
<text x="1241.42 1248.42" y="614.8" font-size="12" fill="#000">9k</text>
<text x="1258.3 1265.3 1272.3" y="614.8" font-size="12" fill="#000">10k</text>
<text x="1293.58 1300.58 1307.58" y="614.8" font-size="12" fill="#a0a0a0">12k</text>
<text x="1323.4 1330.4 1337.4" y="614.8" font-size="12" fill="#a0a0a0">14k</text>
<text x="1360.96 1367.96 1374.96" y="614.8" font-size="12" fill="#a0a0a0">17k</text>
<text x="1392.5 1399.5 1406.5 1412.5 1421.5" y="614.8" font-size="12" fill="#000">21kHz</text>
<rect x="216.5" y="601.5" width="28" height="16" fill="#fff" stroke="#0000ff" stroke-width="1"/>
<text x="219.5 226.5 233.5 236.5" y="614.8" font-size="12" fill="#0000ff">47,3</text>
<rect x="13.5" y="566.5" width="29" height="16" fill="#fff" stroke="#0000ff" stroke-width="1"/>
<text x="16.2 23.2 30.2 33.2" y="579.2" font-size="12" fill="#0000ff">52,5</text>
<rect x="7.75" y="633.75" width="12.5" height="12.5" rx="2" fill="url(#cbg)" stroke="#555" stroke-width="1.4"/>
<path d="M9.8,639.5 L11.3,638.4 L13.5,641.3 L17.7,633.6 L19.1,633.7 L14.0,644.1 L13.0,644.1 Z" fill="#000"/>
<text x="27 34 37 40 47 54 58 65 72 75 78 85 92 96 103 110 113 116 123 130 134 141 148 151 154 161 168 172 179 186 189 192 199" y="645.4" font-size="12" fill="#4034d4">2: Target Target Target Target ao</text>
<rect x="219" y="640" width="54" height="2" fill="#4034d4"/>
<rect x="231" y="633" width="30" height="16" rx="3" fill="#fff" stroke="#4034d4" stroke-width="2"/>
<text x="234.2" y="643.8" font-size="10.5" fill="#000">1</text>
<path d="M238.8,646.8 L246.3,634.7" stroke="#000" stroke-width="1.1"/>
<text x="246.5" y="646.9" font-size="10.5" fill="#000">48</text>
<text x="315.4 322.4 329.4 332.4 339.4 342.4 349.4" y="645.2" font-size="12" fill="#4034d4">81,4 dB</text>
<rect x="7.75" y="657.75" width="12.5" height="12.5" rx="2" fill="url(#cbg)" stroke="#555" stroke-width="1.4"/>
<path d="M9.8,663.5 L11.3,662.4 L13.5,665.3 L17.7,657.6 L19.1,657.7 L14.0,668.1 L13.0,668.1 Z" fill="#000"/>
<text x="27 34 37 40 47 53 56 59 62" y="669.4" font-size="12" fill="#007878">5: oct. 4</text>
<rect x="219" y="664" width="54" height="2" fill="#007878"/>
<rect x="231" y="657" width="30" height="16" rx="3" fill="#fff" stroke="#007878" stroke-width="2"/>
<text x="237.3" y="668.0" font-size="10.5" fill="#000">1</text>
<path d="M241.6,671.3 L249.1,658.9" stroke="#000" stroke-width="1.1"/>
<text x="249.5" y="670.7" font-size="10.5" fill="#000">6</text>
<text x="315.4 322.4 329.4 332.4 339.4 342.4 349.4" y="669.2" font-size="12" fill="#007878">81,4 dB</text>
<rect x="7.75" y="681.75" width="12.5" height="12.5" rx="2" fill="url(#cbg)" stroke="#555" stroke-width="1.4"/>
<path d="M9.8,687.5 L11.3,686.4 L13.5,689.3 L17.7,681.6 L19.1,681.7 L14.0,692.1 L13.0,692.1 Z" fill="#000"/>
<text x="27 34 37 40 47 53 56 59 62" y="693.4" font-size="12" fill="#7a14f2">8: oct. 4</text>
<rect x="219" y="688" width="54" height="2" fill="#7a14f2"/>
<rect x="231" y="681" width="30" height="16" rx="3" fill="#fff" stroke="#7a14f2" stroke-width="2"/>
<text x="237.3" y="692.0" font-size="10.5" fill="#000">1</text>
<path d="M241.6,695.3 L249.1,682.9" stroke="#000" stroke-width="1.1"/>
<text x="249.5" y="694.7" font-size="10.5" fill="#000">6</text>
<text x="315.4 322.4 329.4 332.4 339.4 342.4 349.4" y="693.2" font-size="12" fill="#7a14f2">93,8 dB</text>
<rect x="394.75" y="633.75" width="12.5" height="12.5" rx="2" fill="url(#cbg)" stroke="#555" stroke-width="1.4"/>
<path d="M396.8,639.5 L398.3,638.4 L400.5,641.3 L404.7,633.6 L406.1,633.7 L401.0,644.1 L400.0,644.1 Z" fill="#000"/>
<text x="414 421 424 427 434 440 443 446 449" y="645.4" font-size="12" fill="#119111">3: oct. 4</text>
<rect x="606" y="640" width="54" height="2" fill="#119111"/>
<rect x="618" y="633" width="30" height="16" rx="3" fill="#fff" stroke="#119111" stroke-width="2"/>
<text x="624.3" y="644.0" font-size="10.5" fill="#000">1</text>
<path d="M628.6,647.3 L636.1,634.9" stroke="#000" stroke-width="1.1"/>
<text x="636.5" y="646.7" font-size="10.5" fill="#000">6</text>
<text x="702.4 709.4 716.4 719.4 726.4 729.4 736.4" y="645.2" font-size="12" fill="#119111">84,4 dB</text>
<rect x="394.75" y="657.75" width="12.5" height="12.5" rx="2" fill="url(#cbg)" stroke="#555" stroke-width="1.4"/>
<path d="M396.8,663.5 L398.3,662.4 L400.5,665.3 L404.7,657.6 L406.1,657.7 L401.0,668.1 L400.0,668.1 Z" fill="#000"/>
<text x="414 421 424 427 434 440 443 446 449" y="669.4" font-size="12" fill="#7a22e6">6: oct. 4</text>
<rect x="606" y="664" width="54" height="2" fill="#7a22e6"/>
<rect x="618" y="657" width="30" height="16" rx="3" fill="#fff" stroke="#7a22e6" stroke-width="2"/>
<text x="624.3" y="668.0" font-size="10.5" fill="#000">1</text>
<path d="M628.6,671.3 L636.1,658.9" stroke="#000" stroke-width="1.1"/>
<text x="636.5" y="670.7" font-size="10.5" fill="#000">6</text>
<text x="702.4 709.4 716.4 719.4 726.4 729.4 736.4" y="669.2" font-size="12" fill="#7a22e6">82,4 dB</text>
<rect x="781.75" y="633.75" width="12.5" height="12.5" rx="2" fill="url(#cbg)" stroke="#555" stroke-width="1.4"/>
<path d="M783.8,639.5 L785.3,638.4 L787.5,641.3 L791.7,633.6 L793.1,633.7 L788.0,644.1 L787.0,644.1 Z" fill="#000"/>
<text x="801 808 811 814 821 827 830 833 836" y="645.4" font-size="12" fill="#a04c06">4: oct. 4</text>
<rect x="993" y="640" width="54" height="2" fill="#a04c06"/>
<rect x="1005" y="633" width="30" height="16" rx="3" fill="#fff" stroke="#a04c06" stroke-width="2"/>
<text x="1011.3" y="644.0" font-size="10.5" fill="#000">1</text>
<path d="M1015.6,647.3 L1023.1,634.9" stroke="#000" stroke-width="1.1"/>
<text x="1023.5" y="646.7" font-size="10.5" fill="#000">6</text>
<text x="1089.4 1096.4 1103.4 1106.4 1113.4 1116.4 1123.4" y="645.2" font-size="12" fill="#a04c06">81,6 dB</text>
<rect x="781.75" y="657.75" width="12.5" height="12.5" rx="2" fill="url(#cbg)" stroke="#555" stroke-width="1.4"/>
<path d="M783.8,663.5 L785.3,662.4 L787.5,665.3 L791.7,657.6 L793.1,657.7 L788.0,668.1 L787.0,668.1 Z" fill="#000"/>
<text x="801 808 811 814 821 827 830 833 836" y="669.4" font-size="12" fill="#0e8082">7: oct. 4</text>
<rect x="993" y="664" width="54" height="2" fill="#0e8082"/>
<rect x="1005" y="657" width="30" height="16" rx="3" fill="#fff" stroke="#0e8082" stroke-width="2"/>
<text x="1011.3" y="668.0" font-size="10.5" fill="#000">1</text>
<path d="M1015.6,671.3 L1023.1,658.9" stroke="#000" stroke-width="1.1"/>
<text x="1023.5" y="670.7" font-size="10.5" fill="#000">6</text>
<text x="1089.4 1096.4 1103.4 1106.4 1113.4 1116.4 1123.4" y="669.2" font-size="12" fill="#0e8082">84,0 dB</text>
</svg></body></html>
